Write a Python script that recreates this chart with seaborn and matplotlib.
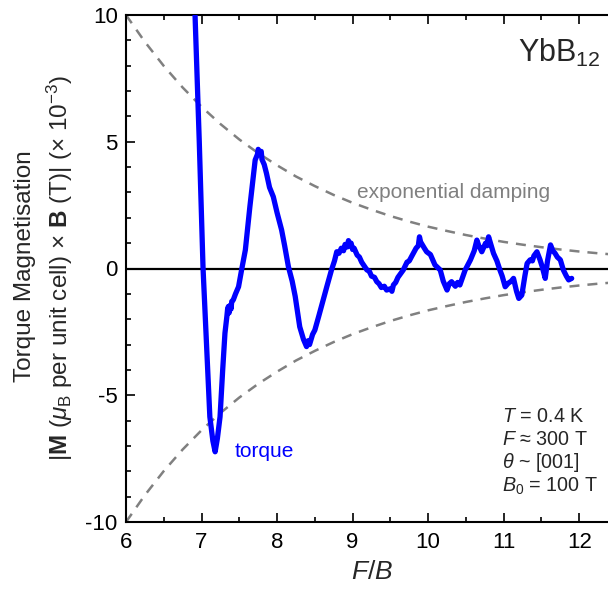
import numpy as np
import pandas as pd
import matplotlib
matplotlib.use("Agg")
import matplotlib.pyplot as plt
import seaborn as sns

# ---------------- data ----------------
torque_x = [6.89, 6.914, 6.97, 7.02, 7.07, 7.11, 7.15, 7.18, 7.21, 7.245, 7.28, 7.31, 7.335,
            7.345, 7.355, 7.365, 7.38, 7.39, 7.40, 7.42, 7.45, 7.49, 7.53, 7.58, 7.64, 7.71,
            7.74, 7.75, 7.77, 7.79, 7.80, 7.83, 7.86, 7.90, 7.95, 8.00, 8.06, 8.10, 8.15,
            8.20, 8.24, 8.30, 8.35, 8.39, 8.41, 8.43, 8.47, 8.50, 8.55, 8.61, 8.66, 8.72,
            8.76, 8.79, 8.82, 8.85, 8.88, 8.90, 8.93, 8.945, 8.96, 8.98, 9.00, 9.02, 9.06,
            9.09, 9.12, 9.19, 9.22, 9.25, 9.29, 9.32, 9.35, 9.38, 9.42, 9.45, 9.50, 9.52,
            9.54, 9.57, 9.60, 9.67, 9.72, 9.75, 9.78, 9.84, 9.87, 9.885, 9.90, 9.92, 9.95,
            9.98, 10.03, 10.06, 10.09, 10.16, 10.20, 10.25, 10.28, 10.31, 10.36, 10.39,
            10.42, 10.45, 10.49, 10.56, 10.61, 10.645, 10.67, 10.68, 10.71, 10.76, 10.78,
            10.80, 10.83, 10.865, 10.91, 10.95, 10.98, 11.02, 11.06, 11.10, 11.13, 11.17,
            11.20, 11.24, 11.28, 11.31, 11.35, 11.38, 11.40, 11.44, 11.48, 11.51, 11.55,
            11.58, 11.62, 11.65, 11.68, 11.71, 11.75, 11.79, 11.83, 11.86, 11.90]
torque_y = [12.0, 10.0, 5.0, 0.0, -3.2, -5.85, -6.8, -7.23, -6.7, -5.85, -4.0, -2.55, -1.9,
            -1.6, -1.5, -1.75, -1.45, -1.6, -1.3, -1.24, -1.0, -0.72, -0.06, 0.73, 2.44, 4.28,
            4.5, 4.7, 4.55, 4.62, 4.3, 4.1, 3.75, 3.2, 2.83, 2.2, 1.52, 0.9, 0.07,
            -0.5, -1.1, -2.3, -2.8, -3.08, -2.85, -3.0, -2.6, -2.43, -1.9, -1.24, -0.7, -0.06,
            0.3, 0.66, 0.6, 0.8, 0.7, 0.95, 0.85, 1.1, 0.9, 1.0, 0.75, 0.8, 0.53,
            0.45, 0.25, -0.06, -0.1, -0.3, -0.35, -0.52, -0.6, -0.75, -0.7, -0.85, -0.8, -0.9,
            -0.65, -0.55, -0.35, -0.06, 0.25, 0.3, 0.47, 0.8, 0.9, 1.25, 1.05, 0.95, 0.8,
            0.66, 0.55, 0.35, 0.14, -0.06, -0.5, -0.85, -0.6, -0.52, -0.7, -0.55,
            -0.65, -0.4, -0.06, 0.34, 0.7, 1.12, 0.9, 0.85, 0.66, 1.0, 0.9,
            1.25, 0.95, 0.6, 0.3, -0.06, -0.3, -0.72, -0.58, -0.5, -0.39, -0.9,
            -1.18, -1.05, -0.3, 0.2, 0.34, 0.3, 0.5, 0.66, 0.35, 0.07, -0.39,
            0.3, 0.93, 0.7, 0.6, 0.45, 0.34, -0.06, -0.3, -0.45, -0.39]

env_x = [6.0, 6.25, 6.5, 6.75, 7.0, 7.25, 7.5, 7.75, 8.0, 8.25, 8.5, 8.75, 9.0, 9.25,
         9.5, 9.75, 10.0, 10.25, 10.5, 10.75, 11.0, 11.25, 11.5, 11.75, 12.0, 12.25, 12.5]
env_upper = [10.0, 8.94, 7.99, 7.14, 6.38, 5.70, 5.09, 4.55, 4.07, 3.63, 3.25, 2.90, 2.59,
             2.32, 2.07, 1.85, 1.65, 1.48, 1.32, 1.18, 1.05, 0.94, 0.84, 0.75, 0.67, 0.60, 0.54]
env_lower = [-v for v in env_upper]

x_ticks = [6, 7, 8, 9, 10, 11, 12]
y_ticks = [-10, -5, 0, 5, 10]
y_ticklabels = ["-10", "-5", "0", "5", "10"]

# ---------------- style ----------------
sns.set_theme(style="ticks")
plt.rcParams['font.family'] = ['Liberation Sans', 'DejaVu Sans']
plt.rcParams['mathtext.fontset'] = 'custom'
plt.rcParams['mathtext.rm'] = 'Liberation Sans'
plt.rcParams['mathtext.it'] = 'Liberation Sans:italic'
plt.rcParams['mathtext.bf'] = 'Liberation Sans:bold'

W, H = 608, 590
fig = plt.figure(figsize=(W / 100, H / 100), dpi=100)
left, right, top, bottom = 126, 617, 15, 522
ax = fig.add_axes([left / W, 1 - bottom / H, (right - left) / W, (bottom - top) / H])

df_t = pd.DataFrame({"x": torque_x, "y": torque_y})
df_e = pd.DataFrame({"x": env_x, "up": env_upper, "lo": env_lower})

ax.axhline(0, color="black", lw=1.6, zorder=1)
sns.lineplot(data=df_e, x="x", y="up", ax=ax, color="#808080", lw=1.8,
             sort=False, estimator=None, zorder=2)
sns.lineplot(data=df_e, x="x", y="lo", ax=ax, color="#808080", lw=1.8,
             sort=False, estimator=None, zorder=2)
for ln in ax.lines[1:]:
    ln.set_dashes((4, 3.2))
sns.lineplot(data=df_t, x="x", y="y", ax=ax, color="#0000ff", lw=3.8,
             sort=False, estimator=None, zorder=3)

ax.set_xlim(6, 12.5)
ax.set_ylim(-10, 10)
ax.set_xticks(x_ticks)
ax.set_xticklabels([str(t) for t in x_ticks])
ax.set_yticks(y_ticks)
ax.set_yticklabels(y_ticklabels)
ax.set_xticks(np.arange(6, 12.6, 0.5), minor=True)
ax.set_yticks(np.arange(-10, 10.1, 1), minor=True)
ax.tick_params(which="both", direction="in", top=True, right=False, width=1.2,
               color="black", labelsize=16, labelcolor="black")
ax.tick_params(which="major", length=6.5)
ax.tick_params(which="minor", length=3.5)
ax.tick_params(axis="x", pad=7)
ax.tick_params(axis="y", pad=6)
for s in ["left", "top", "bottom", "right"]:
    ax.spines[s].set_color("black")
    ax.spines[s].set_linewidth(1.5)
ax.set_xlabel("")
ax.set_ylabel("")

# axis labels
fig.text(372 / W, 1 - 572 / H, r"$F/B$", fontsize=19, ha="center", va="center")
fig.text(25 / W, 1 - 266 / H, "Torque Magnetisation", fontsize=17.5, rotation=90,
         ha="center", va="center")
fig.text(60 / W, 1 - 268 / H,
         r"$|\mathbf{M}$ ($\mu_{\mathrm{B}}$ per unit cell) $\times$ $\mathbf{B}$ (T)$|$ ($\times$ 10$^{-3}$)",
         fontsize=17.5, rotation=90, ha="center", va="center")

# annotations
ax.text(11.19, 8.14, r"YbB$_{12}$", fontsize=22, ha="left", va="baseline")
ax.text(9.06, 2.78, "exponential damping", fontsize=15, color="#808080",
        ha="left", va="baseline")
ax.text(7.44, -7.44, "torque", fontsize=15, color="#0000ff", ha="left", va="baseline")
info = [(r"$T$ = 0.4 K", -6.06), (r"$F$ ≈ 300 T", -6.96),
        (r"$\theta$ ~ [001]", -7.87), (r"$B_{\mathrm{0}}$ = 100 T", -8.82)]
for s, yy in info:
    ax.text(10.98, yy, s, fontsize=14.2, ha="left", va="baseline")

fig.savefig("out.png", dpi=100)
